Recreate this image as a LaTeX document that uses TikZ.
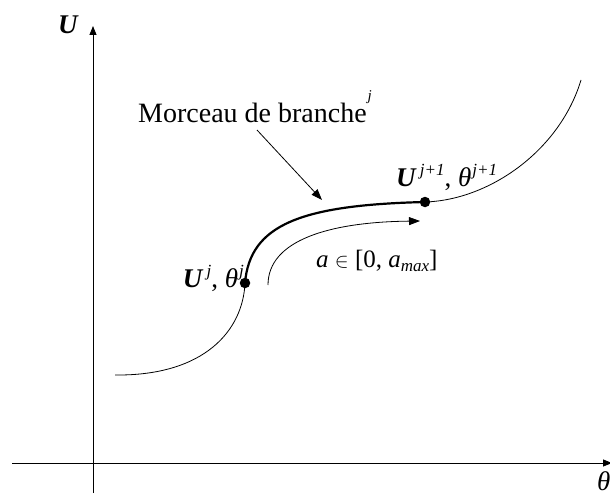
\documentclass[tikz,border=0pt]{standalone}
\usepackage{fontspec}
\setmainfont{Liberation Serif}
\usetikzlibrary{arrows.meta}
\tikzset{
  axis/.style={line width=0.8pt,-{Triangle[length=9pt,width=7pt]}},
  thin curve/.style={line width=0.8pt},
  thick curve/.style={line width=2.2pt},
  pointer/.style={line width=0.8pt,-{Triangle[length=11pt,width=8pt]}},
  dot/.style={circle,fill=black,inner sep=0pt,minimum size=10.5pt},
  lbl/.style={inner sep=0pt,font=\fontsize{27}{30}\selectfont}
}
\newcommand{\bU}{\textbf{\textit{U}}}
\newcommand{\sps}[1]{\raisebox{11pt}{\fontsize{17}{19}\selectfont\textit{#1}}}
\begin{document}
\begin{tikzpicture}[x=1pt,y=-1pt]
\useasboundingbox (0,0) rectangle (610,495);
% axes
\coordinate (yb) at (93,493);
\coordinate (yt) at (93,26);
\coordinate (xl) at (12,463);
\coordinate (xr) at (612,463);
\draw[axis] (yb) -- (yt);
\draw[axis] (xl) -- (xr);
\node[lbl,anchor=base west] (Ulab) at (58,34) {\bU};
\node[lbl,anchor=base west] (thlab) at (597,490) {\textit{θ}};
% points
\node[dot] (pj) at (245,283) {};
\node[dot] (pj1) at (425,202) {};
\coordinate (c0) at (115,375);
\coordinate (c1) at (581,80);
% curve
\draw[thin curve] (c0) .. controls (205,376) and (243,330) .. (pj.center);
\draw[thick curve] (pj.center) .. controls (250,225) and (300,205) .. (pj1.center);
\draw[thin curve] (pj1.center) .. controls (490,200) and (560,150) .. (c1);
% parameter arrow
\coordinate (a0) at (268,285);
\coordinate (a1) at (420,221);
\draw[pointer] (a0) .. controls (268,240) and (330,222) .. (a1);
\node[lbl,anchor=base west,font=\fontsize{25}{28}\selectfont] (alab) at (316,267) {\textit{a} {\fontsize{20}{22}\selectfont$\in$} [0, \textit{a}\raisebox{-4pt}{\fontsize{17}{19}\selectfont\textit{max}}]};
% labels
\node[lbl,anchor=base west,font=\fontsize{28}{30}\selectfont] (morc) at (138,122) {Morceau de branche\hspace{1pt}\raisebox{22pt}{\fontsize{15}{17}\selectfont\textit{j}}};
\coordinate (m0) at (257,130);
\draw[pointer] (m0) -- (322,200);
\node[lbl,anchor=base east] (ljlab) at (244,287) {\bU\hspace{3pt}\sps{j}, \textit{θ}\hspace{1pt}\sps{j}};
\node[lbl,anchor=base west] (lj1lab) at (396,186) {\bU\hspace{3pt}\sps{j+1}, \textit{θ}\hspace{1pt}\sps{j+1}};
\end{tikzpicture}
\end{document}
